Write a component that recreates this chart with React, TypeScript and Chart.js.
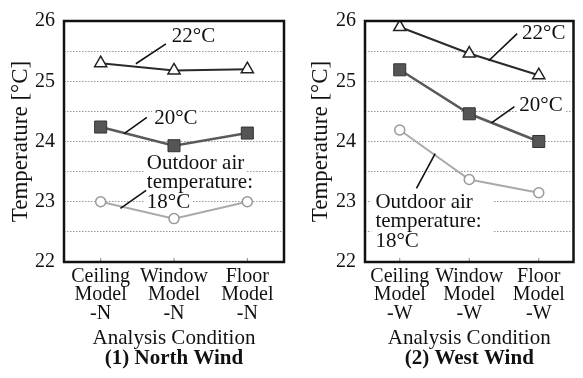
import React, { useEffect, useRef } from 'react';
import { Chart, registerables } from 'chart.js';

Chart.register(...registerables);

const FONT = "'Liberation Serif', 'Times New Roman', serif";

// ---- data ----
const northCategories = [["Ceiling", "Model", "-N"], ["Window", "Model", "-N"], ["Floor", "Model", "-N"]];
const westCategories = [["Ceiling", "Model", "-W"], ["Window", "Model", "-W"], ["Floor", "Model", "-W"]];

const north22 = [25.3, 25.18, 25.2];
const north20 = [24.24, 23.93, 24.14];
const north18 = [23.0, 22.72, 23.0];

const west22 = [25.9, 25.46, 25.1];
const west20 = [25.19, 24.46, 24.0];
const west18 = [24.19, 23.37, 23.15];

const yMin = 22;
const yMax = 26;
const yStep = 0.5;

const yAxisTitle = "Temperature [°C]";
const xAxisTitle = "Analysis Condition";
const northTitle = "(1) North Wind";
const westTitle = "(2) West Wind";

const label22 = ["22°C"];
const label20 = ["20°C"];
const label18 = ["Outdoor air", "temperature:", "18°C"];

// callout placement in data units: [category index, value]
const northCallouts = [
  { lines: label22, at: [0.97, 25.75], leader: [[0.89, 25.62], [0.48, 25.29]], block: false },
  { lines: label20, at: [0.73, 24.38], leader: [[0.63, 24.4], [0.32, 24.13]], block: false },
  { lines: label18, at: [0.63, 23.64], leader: [[0.62, 23.19], [0.27, 22.89]], block: false },
];
const westCallouts = [
  { lines: label22, at: [1.76, 25.8], leader: [[1.69, 25.79], [1.28, 25.34]], block: false },
  { lines: label20, at: [1.72, 24.6], leader: [[1.65, 24.58], [1.32, 24.31]], block: false },
  { lines: label18, at: [-0.35, 22.99], leader: [[0.24, 23.22], [0.51, 23.8]], block: true },
];

const LINE_SPACING = 19.5;
const CALLOUT_SIZE = 21;

const calloutPlugin = {
  id: 'calloutLabels',
  beforeDatasetsDraw(chart: any, _a: any, opts: any) {
    const { ctx, scales } = chart;
    const x = scales.x, y = scales.y;
    ctx.save();
    ctx.font = `${CALLOUT_SIZE}px ${FONT}`;
    ctx.fillStyle = '#fff';
    for (const it of opts.items || []) {
      const x0 = x.getPixelForValue(it.at[0]);
      const y0 = y.getPixelForValue(it.at[1]);
      if (it.block) {
        const w = Math.max(...it.lines.map((l: string) => ctx.measureText(l).width));
        ctx.fillRect(x0 - 4, y0 - 10, w + 16, (it.lines.length - 1) * LINE_SPACING + 20);
      } else {
        it.lines.forEach((line: string, k: number) => {
          const yy = y0 + k * LINE_SPACING;
          const w = ctx.measureText(line).width;
          ctx.fillRect(x0 - 2, yy - 9, w + 4, 18);
        });
      }
    }
    ctx.restore();
  },
  afterDatasetsDraw(chart: any, _a: any, opts: any) {
    const { ctx, scales } = chart;
    const x = scales.x, y = scales.y;
    ctx.save();
    ctx.font = `${CALLOUT_SIZE}px ${FONT}`;
    ctx.textBaseline = 'middle';
    ctx.textAlign = 'left';
    for (const it of opts.items || []) {
      const x0 = x.getPixelForValue(it.at[0]);
      it.lines.forEach((line: string, k: number) => {
        const yy = y.getPixelForValue(it.at[1]) + k * LINE_SPACING;
        ctx.fillStyle = '#111';
        ctx.fillText(line, x0, yy);
      });
      ctx.beginPath();
      ctx.strokeStyle = '#111';
      ctx.lineWidth = 1.6;
      ctx.moveTo(x.getPixelForValue(it.leader[0][0]), y.getPixelForValue(it.leader[0][1]));
      ctx.lineTo(x.getPixelForValue(it.leader[1][0]), y.getPixelForValue(it.leader[1][1]));
      ctx.stroke();
    }
    ctx.restore();
  },
};

const framePlugin = {
  id: 'frame',
  afterDraw(chart: any) {
    const { ctx, chartArea: a, scales } = chart;
    ctx.save();
    ctx.strokeStyle = '#888';
    ctx.lineWidth = 1;
    const n = scales.x.ticks.length;
    for (let i = 0; i < n; i++) {
      const px = scales.x.getPixelForTick(i);
      ctx.beginPath();
      ctx.moveTo(px, a.bottom);
      ctx.lineTo(px, a.bottom - 4);
      ctx.stroke();
    }
    ctx.strokeStyle = '#111';
    ctx.lineWidth = 2.5;
    ctx.strokeRect(a.left, a.top, a.right - a.left, a.bottom - a.top);
    ctx.restore();
  },
};

type PanelProps = {
  left: number;
  width: number;
  categories: string[][];
  s22: number[];
  s20: number[];
  s18: number[];
  title: string;
  callouts: any[];
  yAxisWidth: number;
  padRight: number;
};

function Panel(p: PanelProps) {
  const ref = useRef<HTMLCanvasElement>(null);
  useEffect(() => {
    const chart = new Chart(ref.current as HTMLCanvasElement, {
      type: 'line',
      data: {
        labels: p.categories as any,
        datasets: [
          {
            label: '22°C', data: p.s22, borderColor: '#2a2a2a', borderWidth: 2,
            pointStyle: 'triangle', pointRadius: 7, pointBackgroundColor: '#fff',
            pointBorderColor: '#222', pointBorderWidth: 1.5, tension: 0,
          },
          {
            label: '20°C', data: p.s20, borderColor: '#5a5a5a', borderWidth: 2.5,
            pointStyle: 'rect', pointRadius: 8.5, pointBackgroundColor: '#555',
            pointBorderColor: '#333', pointBorderWidth: 1, tension: 0,
          },
          {
            label: '18°C', data: p.s18, borderColor: '#aaa', borderWidth: 2,
            pointStyle: 'circle', pointRadius: 5, pointBackgroundColor: '#fff',
            pointBorderColor: '#999', pointBorderWidth: 1.5, tension: 0,
          },
        ],
      },
      options: {
        animation: false,
        responsive: false,
        devicePixelRatio: 1,
        layout: { padding: { top: 20, right: p.padRight, bottom: 0, left: 0 } },
        plugins: {
          legend: { display: false },
          tooltip: { enabled: false },
          title: {
            display: true, text: p.title, position: 'bottom', fullSize: false,
            font: { family: FONT, size: 21, weight: 'bold', lineHeight: 1 },
            color: '#111', padding: { top: -0.5, bottom: 8.5 },
          },
          calloutLabels: { items: p.callouts },
        } as any,
        scales: {
          x: {
            type: 'category', offset: true,
            grid: { display: false }, border: { display: false },
            ticks: {
              font: { family: FONT, size: 20, lineHeight: 0.93 }, color: '#111',
              padding: -3, maxRotation: 0, autoSkip: false,
            },
            title: {
              display: true, text: xAxisTitle,
              font: { family: FONT, size: 21, lineHeight: 1 }, color: '#111',
              padding: { top: 0, bottom: 0 },
            },
            afterFit(s: any) { s.height = 87; },
          },
          y: {
            min: yMin, max: yMax,
            ticks: {
              stepSize: yStep,
              callback: (v: any) => (Number.isInteger(v) ? String(v) : ''),
              font: { family: FONT, size: 20 }, color: '#111', padding: 9,
            },
            grid: { color: '#999', lineWidth: 1, drawTicks: false },
            border: { display: false, dash: [1.5, 1.5] },
            title: {
              display: true, text: yAxisTitle,
              font: { family: FONT, size: 23, lineHeight: 1 }, color: '#111',
              padding: { top: 9.5, bottom: 0 },
            },
            afterFit(s: any) { s.width = p.yAxisWidth; },
          },
        } as any,
      },
      plugins: [calloutPlugin, framePlugin],
    });
    return () => chart.destroy();
  }, []);
  return (
    <canvas
      ref={ref}
      width={p.width}
      height={378}
      style={{ position: 'absolute', left: p.left, top: 0, width: p.width, height: 378 }}
    />
  );
}

export default function App() {
  return (
    <div style={{ position: 'fixed', left: 0, top: 0, width: 583, height: 378, background: '#fff', overflow: 'hidden' }}>
      <Panel left={0} width={300} categories={northCategories} s22={north22} s20={north20} s18={north18}
        title={northTitle} callouts={northCallouts} yAxisWidth={64} padRight={16} />
      <Panel left={300} width={283} categories={westCategories} s22={west22} s20={west20} s18={west18}
        title={westTitle} callouts={westCallouts} yAxisWidth={65} padRight={1} />
    </div>
  );
}
